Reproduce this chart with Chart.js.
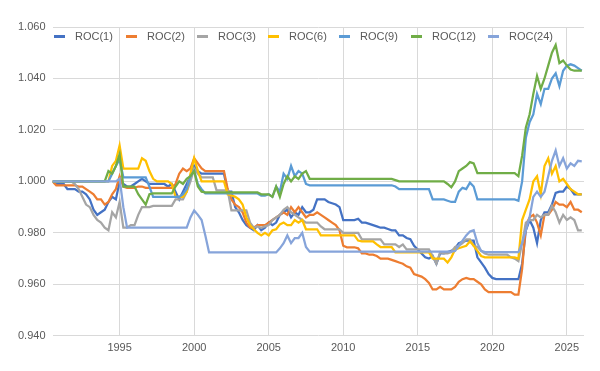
<!DOCTYPE html>
<html>
<head>
<meta charset="utf-8">
<script src="https://cdn.jsdelivr.net/npm/chart.js@4.4.1/dist/chart.umd.min.js"></script>
<style>
  html, body { margin: 0; padding: 0; background: #fff; }
  #wrap { position: relative; width: 600px; height: 371px; }
  #legend { position: absolute; left: 0; top: 29px; width: 600px; height: 14px;
            font: 11px "Liberation Sans", Arial, sans-serif; color: #595959; }
  .item { position: absolute; top: 0; height: 14px; display: flex; align-items: center; white-space: nowrap; }
  .swatch { width: 11px; height: 3px; margin-right: 10px; }
</style>
</head>
<body>
<div id="wrap">
  <canvas id="chart" width="600" height="371"></canvas>
  <div id="legend"></div>
</div>
<script>
// Quarterly sample points, 1990.5 .. 2026.0
const startYear = 1990.5;
const endYear = 2026.0;
const years = [];
for (let t = startYear; t <= endYear + 0.001; t += 0.25) years.push(+t.toFixed(2));

const tickYears = [1995, 2000, 2005, 2010, 2015, 2020, 2025];
const seriesNames = ['ROC(1)', 'ROC(2)', 'ROC(3)', 'ROC(6)', 'ROC(9)', 'ROC(12)', 'ROC(24)'];
const seriesColors = ['#4472C4', '#ED7D31', '#A5A5A5', '#FFC000', '#5B9BD5', '#70AD47', '#86A4DA'];

const roc1 = [
  1.000, 0.999,
  0.999, 0.999, 0.997, 0.997,
  0.997, 0.996, 0.996, 0.995,
  0.993, 0.989, 0.987, 0.988,
  0.989, 0.992, 0.994, 0.993,
  1.000, 0.999, 0.998, 0.998,
  0.999, 1.000, 1.001, 1.000,
  0.999, 0.999, 0.999, 0.999,
  0.999, 0.998, 0.999, 0.996,
  0.993, 0.996, 0.999, 1.002,
  1.006, 1.004, 1.003, 1.003,
  1.003, 1.003, 1.003, 1.003,
  1.003, 0.996, 0.996, 0.990,
  0.988, 0.985, 0.983, 0.982,
  0.981, 0.983, 0.981, 0.982,
  0.984, 0.983, 0.984, 0.987,
  0.988, 0.989, 0.986, 0.988,
  0.987, 0.990, 0.988, 0.988,
  0.989, 0.993, 0.993, 0.993,
  0.992, 0.9915, 0.991, 0.990,
  0.985, 0.985, 0.985, 0.985,
  0.9855, 0.984, 0.984, 0.9835,
  0.983, 0.9825, 0.982, 0.982,
  0.9815, 0.981, 0.981, 0.979,
  0.979, 0.978, 0.9775, 0.975,
  0.9735, 0.972, 0.9705, 0.970,
  0.971, 0.968, 0.972, 0.972,
  0.9725, 0.973, 0.974, 0.976,
  0.9765, 0.977, 0.977, 0.977,
  0.9705, 0.9685, 0.9665, 0.964,
  0.9625, 0.962, 0.962, 0.962,
  0.962, 0.962, 0.962, 0.962,
  0.968, 0.981, 0.985, 0.982,
  0.976, 0.985, 0.988, 0.988,
  0.991, 0.9955, 0.996, 0.996,
  0.998, 0.997, 0.995, 0.995,
  0.995
];

const roc2 = [
  1.000, 0.9985,
  0.9985, 0.9985, 0.9985, 0.9985,
  0.9985, 0.998, 0.998, 0.997,
  0.996, 0.995, 0.993, 0.993,
  0.991, 0.992, 0.995, 0.997,
  1.002, 0.998, 0.9975, 0.9975,
  0.9975, 0.998, 0.998, 0.9975,
  0.9975, 0.9975, 0.9975, 0.9975,
  0.9975, 0.9975, 0.9975, 0.999,
  1.003, 1.005, 1.004, 1.005,
  1.009, 1.007, 1.005, 1.004,
  1.004, 1.004, 1.004, 1.004,
  1.004, 0.997, 0.993, 0.991,
  0.990, 0.988, 0.984, 0.982,
  0.982, 0.983, 0.983, 0.983,
  0.984, 0.985, 0.986, 0.987,
  0.988, 0.987, 0.990, 0.988,
  0.990, 0.988, 0.986, 0.987,
  0.987, 0.988, 0.987, 0.986,
  0.985, 0.984, 0.983, 0.981,
  0.975, 0.9744, 0.9744, 0.9744,
  0.974, 0.972, 0.972, 0.9715,
  0.9715, 0.971, 0.970, 0.970,
  0.970, 0.9695, 0.969, 0.9685,
  0.968, 0.967, 0.9665, 0.964,
  0.9635, 0.963, 0.962, 0.9605,
  0.958, 0.958, 0.959, 0.958,
  0.958, 0.958, 0.959, 0.961,
  0.962, 0.9625, 0.962, 0.962,
  0.961, 0.960, 0.958, 0.957,
  0.957, 0.957, 0.957, 0.957,
  0.957, 0.957, 0.956, 0.956,
  0.966, 0.983, 0.986, 0.987,
  0.984, 0.979, 0.987, 0.987,
  0.989, 0.992, 0.991, 0.991,
  0.990, 0.992, 0.989, 0.989,
  0.988
];

const roc3 = [
  1.000, 1.000,
  1.000, 1.000, 1.000, 1.000,
  0.999, 0.997, 0.994, 0.991,
  0.990, 0.987, 0.985, 0.984,
  0.982, 0.981, 0.988, 0.986,
  0.992, 0.982, 0.982, 0.983,
  0.983, 0.987, 0.990, 0.990,
  0.990, 0.9905, 0.9905, 0.9905,
  0.9905, 0.9905, 0.9905, 0.993,
  0.993, 0.993, 0.996, 1.000,
  1.005, 1.003, 1.0016, 1.0016,
  1.0016, 1.0016, 0.9965, 0.9965,
  0.9965, 0.9965, 0.9887, 0.9887,
  0.9887, 0.9887, 0.9887, 0.984,
  0.982, 0.9825, 0.982, 0.9825,
  0.983, 0.985, 0.986, 0.987,
  0.989, 0.990, 0.988, 0.987,
  0.986, 0.985, 0.984, 0.984,
  0.984, 0.984, 0.9825, 0.9814,
  0.9814, 0.9814, 0.9814, 0.9814,
  0.980, 0.980, 0.980, 0.980,
  0.980, 0.9775, 0.9775, 0.9775,
  0.9775, 0.9775, 0.9775, 0.9755,
  0.9755, 0.9755, 0.9755, 0.9745,
  0.9755, 0.9736, 0.9736, 0.9736,
  0.9736, 0.9736, 0.9736, 0.9736,
  0.971, 0.968, 0.9725, 0.972,
  0.972, 0.9725, 0.9745, 0.975,
  0.976, 0.9775, 0.9775, 0.975,
  0.9745, 0.973, 0.972, 0.9715,
  0.9715, 0.9715, 0.9715, 0.9715,
  0.9715, 0.9705, 0.970, 0.969,
  0.976, 0.984, 0.985, 0.985,
  0.987, 0.986, 0.987, 0.987,
  0.9905, 0.988, 0.984, 0.987,
  0.985, 0.986, 0.985, 0.981,
  0.981
];

const roc6 = [
  1.000, 1.000,
  1.000, 1.000, 1.000, 1.000,
  1.000, 1.000, 1.000, 1.000,
  1.000, 1.000, 1.000, 1.000,
  1.000, 1.000, 1.006, 1.008,
  1.014, 1.005, 1.005, 1.005,
  1.005, 1.005, 1.009, 1.008,
  1.004, 1.001, 1.000, 1.000,
  1.000, 1.000, 0.999, 0.994,
  0.994, 0.994, 0.996, 1.003,
  1.009, 1.004, 1.000, 1.000,
  1.000, 1.000, 1.000, 1.000,
  1.000, 0.995, 0.9946, 0.994,
  0.993, 0.991, 0.986, 0.983,
  0.9814, 0.980, 0.979, 0.980,
  0.979, 0.981, 0.9814, 0.9833,
  0.984, 0.983, 0.983, 0.985,
  0.984, 0.985, 0.9814, 0.9814,
  0.9814, 0.9814, 0.979, 0.979,
  0.979, 0.979, 0.979, 0.979,
  0.979, 0.979, 0.979, 0.979,
  0.977, 0.9767, 0.9767, 0.9767,
  0.9767, 0.9755, 0.9745, 0.9745,
  0.9745, 0.9745, 0.9724, 0.9724,
  0.9724, 0.9724, 0.9724, 0.9724,
  0.9724, 0.9724, 0.9724, 0.9724,
  0.970, 0.970, 0.970, 0.970,
  0.9685, 0.9705, 0.9735, 0.974,
  0.9745, 0.975, 0.9767, 0.975,
  0.973, 0.971, 0.9705, 0.9705,
  0.9705, 0.9705, 0.9705, 0.9705,
  0.9705, 0.9705, 0.9705, 0.970,
  0.985, 0.989, 0.993, 1.000,
  1.002, 0.995, 1.006, 1.009,
  1.003, 1.006, 1.000, 1.001,
  0.999, 0.997, 0.996, 0.995,
  0.995
];

const roc9 = [
  1.000, 1.000,
  1.000, 1.000, 1.000, 1.000,
  1.000, 1.000, 1.000, 1.000,
  1.000, 1.000, 1.000, 1.000,
  1.000, 1.000, 1.003, 1.006,
  1.0085, 1.0016, 1.0016, 1.0016,
  1.0016, 1.0016, 1.0016, 1.0016,
  0.998, 0.994, 0.994, 0.994,
  0.994, 0.994, 0.994, 0.994,
  0.994, 0.995, 0.997, 1.002,
  1.004, 0.999, 0.997, 0.9953,
  0.9953, 0.9953, 0.9953, 0.9953,
  0.9953, 0.9953, 0.9953, 0.9953,
  0.9953, 0.9953, 0.9953, 0.9953,
  0.9953, 0.9953, 0.9945, 0.9945,
  0.995, 0.994, 0.998, 0.996,
  1.003, 1.001, 1.006, 1.002,
  1.004, 1.003, 0.999, 0.9985,
  0.9985, 0.9985, 0.9985, 0.9985,
  0.9985, 0.9985, 0.9985, 0.9985,
  0.9985, 0.9985, 0.9985, 0.9985,
  0.9985, 0.9985, 0.9985, 0.9985,
  0.9985, 0.9985, 0.9985, 0.9985,
  0.9985, 0.9985, 0.998, 0.997,
  0.997, 0.997, 0.997, 0.997,
  0.997, 0.997, 0.997, 0.997,
  0.993, 0.993, 0.993, 0.993,
  0.9925, 0.992, 0.992, 0.996,
  0.9975, 0.997, 0.9995, 0.998,
  0.993, 0.993, 0.993, 0.993,
  0.993, 0.993, 0.993, 0.993,
  0.993, 0.993, 0.993, 0.9925,
  1.000, 1.017, 1.023, 1.026,
  1.034, 1.030, 1.036, 1.036,
  1.040, 1.042, 1.037, 1.043,
  1.045, 1.0455, 1.045, 1.044,
  1.043
];

const roc12 = [
  1.000, 1.000,
  1.000, 1.000, 1.000, 1.000,
  1.000, 1.000, 1.000, 1.000,
  1.000, 1.000, 1.000, 1.000,
  1.000, 1.004, 1.003, 1.006,
  1.0105, 0.998, 0.998, 0.998,
  0.998, 0.995, 0.993, 0.991,
  0.995, 0.9953, 0.9953, 0.9953,
  0.9953, 0.9953, 0.9953, 0.998,
  1.000, 0.999, 1.001, 1.002,
  1.004, 0.998, 0.996, 0.9957,
  0.9957, 0.9957, 0.9957, 0.9957,
  0.9957, 0.9957, 0.9957, 0.9957,
  0.9957, 0.9957, 0.9957, 0.9957,
  0.9957, 0.9957, 0.995, 0.995,
  0.995, 0.994, 0.998, 0.994,
  0.999, 1.002, 1.000, 1.002,
  1.001, 1.003, 1.004, 1.001,
  1.001, 1.001, 1.001, 1.001,
  1.001, 1.001, 1.001, 1.001,
  1.001, 1.001, 1.001, 1.001,
  1.001, 1.001, 1.001, 1.001,
  1.001, 1.001, 1.001, 1.001,
  1.001, 1.001, 1.0005, 1.000,
  1.000, 1.000, 1.000, 1.000,
  1.000, 1.000, 1.000, 1.000,
  1.000, 1.000, 1.000, 1.000,
  0.999, 0.9977, 1.000, 1.004,
  1.005, 1.006, 1.0075, 1.007,
  1.0032, 1.0032, 1.0032, 1.0032,
  1.0032, 1.0032, 1.0032, 1.0032,
  1.0032, 1.0032, 1.0032, 1.002,
  1.010, 1.021, 1.026, 1.034,
  1.041, 1.036, 1.040, 1.045,
  1.050, 1.053, 1.046, 1.047,
  1.045, 1.0435, 1.043, 1.043,
  1.043
];

const roc24 = [
  1.000, 1.000,
  1.000, 1.000, 1.000, 1.000,
  1.000, 1.000, 1.000, 1.000,
  1.000, 1.000, 1.000, 1.000,
  1.000, 1.000, 1.000, 1.000,
  1.001, 0.990, 0.982, 0.982,
  0.982, 0.982, 0.982, 0.982,
  0.982, 0.982, 0.982, 0.982,
  0.982, 0.982, 0.982, 0.982,
  0.982, 0.982, 0.982, 0.986,
  0.9887, 0.987, 0.985, 0.979,
  0.9724, 0.9724, 0.9724, 0.9724,
  0.9724, 0.9724, 0.9724, 0.9724,
  0.9724, 0.9724, 0.9724, 0.9724,
  0.9724, 0.9724, 0.9724, 0.9724,
  0.9724, 0.9724, 0.9724, 0.974,
  0.976, 0.979, 0.976, 0.978,
  0.978, 0.980, 0.9745, 0.9727,
  0.9727, 0.9727, 0.9727, 0.9727,
  0.9727, 0.9727, 0.9727, 0.9727,
  0.9727, 0.9727, 0.9727, 0.9727,
  0.9727, 0.9727, 0.9727, 0.9727,
  0.9727, 0.9727, 0.9727, 0.9727,
  0.9727, 0.9727, 0.9727, 0.9727,
  0.9727, 0.9727, 0.9727, 0.9727,
  0.9727, 0.9727, 0.9727, 0.9727,
  0.9727, 0.9727, 0.9727, 0.9727,
  0.9727, 0.9727, 0.973, 0.975,
  0.977, 0.979, 0.9805, 0.981,
  0.976, 0.973, 0.9725, 0.9725,
  0.9725, 0.9725, 0.9725, 0.9725,
  0.9725, 0.9725, 0.9725, 0.9725,
  0.976, 0.981, 0.986, 0.994,
  0.996, 0.994, 0.996, 1.002,
  1.008, 1.012, 1.006, 1.009,
  1.005, 1.007, 1.006, 1.008,
  1.0078
];

const seriesValues = [roc1, roc2, roc3, roc6, roc9, roc12, roc24];

// Legend (Excel style, drawn over the plot area)
const legendX = [54, 126, 197, 268, 339, 411, 488];
const legendEl = document.getElementById('legend');
seriesNames.forEach((name, i) => {
  const item = document.createElement('div');
  item.className = 'item';
  item.style.left = legendX[i] + 'px';
  item.innerHTML = `<span class="swatch" style="background:${seriesColors[i]}"></span><span>${name}</span>`;
  legendEl.appendChild(item);
});

const axisFont = { family: '"Liberation Sans", Arial, sans-serif', size: 11 };

const datasets = seriesNames.map((name, i) => ({
  label: name,
  data: seriesValues[i].map((v, k) => ({ x: years[k], y: v })),
  borderColor: seriesColors[i],
  backgroundColor: seriesColors[i],
  borderWidth: 2.25,
  pointRadius: 0,
  tension: 0,
  fill: false,
  // later series drawn on top, like the original
  order: seriesNames.length - i
}));

new Chart(document.getElementById('chart'), {
  type: 'line',
  data: { datasets },
  options: {
    responsive: false,
    animation: false,
    layout: { padding: { left: 11, right: 16, top: 27, bottom: 10 } },
    plugins: {
      legend: { display: false },
      tooltip: { enabled: false }
    },
    scales: {
      x: {
        type: 'linear',
        min: 1990.5,
        max: 2026.15,
        afterBuildTicks: axis => { axis.ticks = tickYears.map(v => ({ value: v })); },
        grid: { color: '#d9d9d9', drawTicks: false },
        border: { display: false },
        ticks: {
          padding: 6,
          color: '#595959',
          font: axisFont,
          autoSkip: false,
          maxRotation: 0,
          callback: v => String(v)
        }
      },
      y: {
        min: 0.94,
        max: 1.06,
        grid: { color: '#d9d9d9', drawTicks: false },
        border: { display: false },
        ticks: {
          stepSize: 0.02,
          padding: 7,
          color: '#595959',
          font: axisFont,
          callback: v => v.toFixed(3)
        }
      }
    }
  }
});
</script>
</body>
</html>
